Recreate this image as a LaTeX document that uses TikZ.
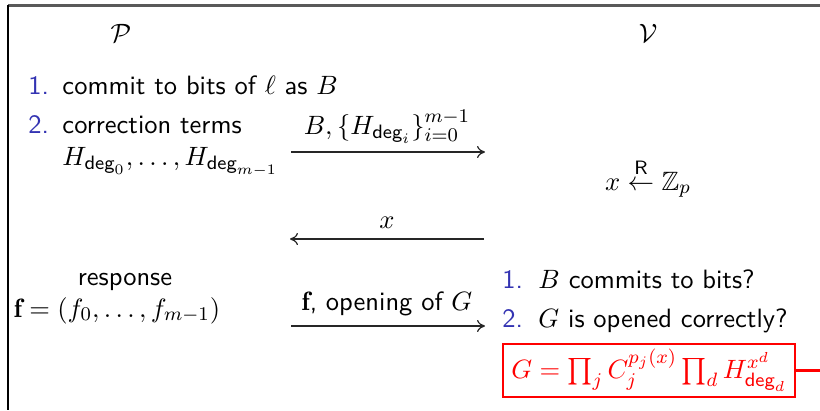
\documentclass[tikz,border=0pt,11pt]{standalone}
\usepackage{amsmath,amssymb}
\usepackage{fontspec}
\usetikzlibrary{arrows.meta}
\definecolor{itemblue}{rgb}{0.2,0.2,0.7}
\definecolor{framegray}{gray}{0.35}
\newcommand{\dg}[1]{\mathsf{deg}_{#1}}
\begin{document}
\begin{tikzpicture}[x=0.413pt,y=-0.413pt,
  txt/.style={font=\normalsize\sffamily, inner sep=0pt, anchor=base west},
  ctxt/.style={font=\normalsize\sffamily, inner sep=0pt, anchor=base},
  num/.style={txt, text=itemblue},
  msg/.style={line width=0.5pt, draw=black!85, -{Computer Modern Rightarrow[length=3.3pt,width=5pt]}},
  redbox/.style={draw=red, line width=1.1pt, text=red, inner sep=0pt,
    minimum width=120.6pt, minimum height=21.9pt, font=\normalsize\sffamily}]
\useasboundingbox (0,0) rectangle (820,410);
% frame
\draw[framegray, line width=0.85pt] (8,5.5) -- (820,5.5);
\draw[black, line width=0.85pt] (8,5) -- (8,410);
% parties
\node[ctxt] (P) at (121,42) {$\mathcal{P}$};
\node[ctxt] (V) at (648,42) {$\mathcal{V}$};
% prover items
\node[num] (n1) at (28,94) {1.};
\node[txt] (t1) at (62,94) {commit to bits of $\ell$ as $B$};
\node[num] (n2) at (28,133) {2.};
\node[txt] (t2) at (62,133) {correction terms};
\node[txt] (t2b) at (62,165) {$H_{\dg{0}},\dots,H_{\dg{m-1}}$};
% message 1
\coordinate (m1s) at (291,152);
\coordinate (m1e) at (485,152);
\draw[msg] (m1s) -- (m1e);
\node[ctxt] (l1) at (387,134) {$B,\{H_{\dg{i}}\}_{i=0}^{m-1}$};
% verifier challenge
\node[ctxt] (ch) at (648,190) {$x\overset{\mathsf{R}}{\leftarrow}\mathbb{Z}_p$};
% message 2
\coordinate (m2s) at (484,239);
\coordinate (m2e) at (290,239);
\draw[msg] (m2s) -- (m2e);
\node[ctxt] (l2) at (387,228) {$x$};
% response
\node[ctxt] (r1) at (125,285) {response};
\node[ctxt] (r2) at (117,317) {$\mathbf{f}=(f_0,\dots,f_{m-1})$};
% message 3
\coordinate (m3s) at (291,326);
\coordinate (m3e) at (485,326);
\draw[msg] (m3s) -- (m3e);
\node[ctxt] (l3) at (387,310) {$\mathbf{f}$, opening of $G$};
% verifier checks
\node[num] (v1) at (502,288) {1.};
\node[txt] (vt1) at (538,288) {$B$ commits to bits?};
\node[num] (v2) at (502,327) {2.};
\node[txt] (vt2) at (538,327) {$G$ is opened correctly?};
\node[redbox] (G) at (649,370.5) {$G=\prod_j C_j^{p_j(x)}\prod_d H_{\dg{d}}^{x^d}$};
\coordinate (Gr) at (822,370);
\draw[red, line width=1.25pt] (G.east) -- (G.east -| Gr);
\end{tikzpicture}
\end{document}
